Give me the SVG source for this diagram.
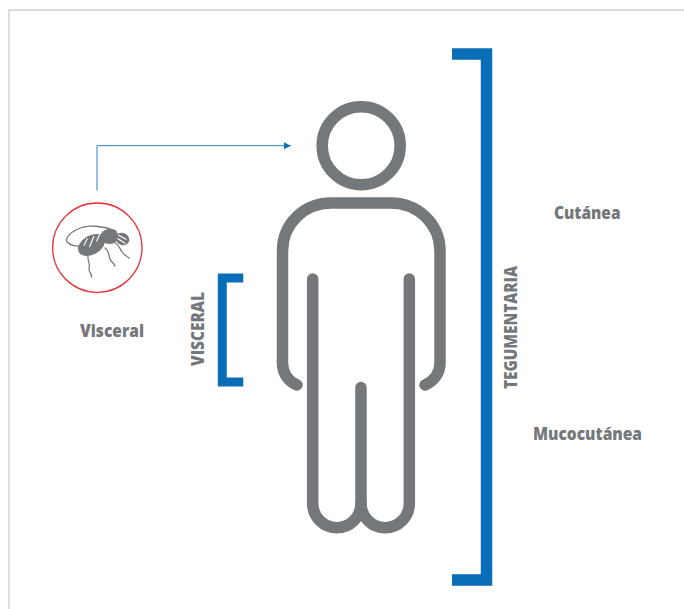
<svg xmlns="http://www.w3.org/2000/svg" width="684" height="609" viewBox="0 0 684 609">
<style>
.body{fill:none;stroke:#75787b;stroke-width:11.5;stroke-linecap:round;stroke-linejoin:round}
.br{fill:none;stroke:#0a6db8;stroke-linejoin:miter}
.t{font-family:"Open Sans","Liberation Sans",sans-serif;font-weight:800;font-size:17px;fill:#75787b}
.fl{fill:none;stroke:#75787b;stroke-width:1.300;stroke-linecap:round}
</style>
<defs>
<marker id="ah" markerUnits="userSpaceOnUse" markerWidth="7" markerHeight="8" refX="7" refY="4" orient="auto"><path d="M0 0.3L7 4L0 7.7Z" fill="#0a6db8"/></marker>
</defs>
<rect width="684" height="609" fill="#fff"/>
<path d="M9 609V10H684" fill="none" stroke="#cfcfcf" stroke-width="1.300"/>
<g id="connectors">
<path d="M97 190.500V145.700H290.700" fill="none" stroke="#2c80c2" stroke-width="1" marker-end="url(#ah)"/>
</g>
<g id="person">
<circle class="body" cx="361.200" cy="145.700" r="39"/>
<path class="body" d="M297 385C288 381 282.500 373 282.500 363V251C282.500 224 304 203 331 203H391C418 203 440 224 440 251V363C440 373 434 381 425 385"/>
<path class="body" d="M312.700 279V503.500A24.150 24.150 0 0 0 361 503.500A24.150 24.150 0 0 0 409.300 503.500V279"/>
<path class="body" d="M361 387.500V503.500"/>
</g>
<g id="fly-icon">
<circle cx="97.300" cy="247.700" r="44.700" fill="#fff" stroke="#e8323a" stroke-width="1.300"/>
<path class="fl" d="M116 231C104 226 88 224 78 229C69 233 65 239 67 242C71 246 80 247 89 246"/>
<g fill="#75787b">
<ellipse cx="91.500" cy="245" rx="14.500" ry="9.500" transform="rotate(-30 91.500 245)"/>
<ellipse cx="109.500" cy="236.500" rx="9" ry="7.500"/>
<ellipse cx="122.500" cy="239" rx="7" ry="6" transform="rotate(25 122.500 239)"/>
</g>
<path d="M87.300 238.300L84 245.500M94 236L89.500 247M99.500 234.500L96.500 241.500M118.300 235L126.500 239.500M117.500 238.500L125.500 243.500" stroke="#fff" stroke-width="1.100" fill="none"/>
<path class="fl" d="M88 256C87 261 91 263 89 268C88 272 92 273 91.500 277"/>
<path class="fl" d="M105 248C109 251 109 256 110 259C111 262 114 263 115 266"/>
<path class="fl" d="M113 242C119 244 120 249 122 252C124 255 127 256 129 258"/>
</g>
<g id="bracket-visceral">
<path class="br" stroke-width="9" d="M243.300 278H222.300V382H243.300"/>
<text class="t" transform="translate(203.500 366) rotate(-90)" textLength="74" lengthAdjust="spacingAndGlyphs">VISCERAL</text>
</g>
<g id="bracket-tegumentaria">
<path class="br" stroke-width="11.500" d="M452 54H486.500V580H452"/>
<text class="t" transform="translate(516.700 389) rotate(-90)" textLength="123" lengthAdjust="spacingAndGlyphs">TEGUMENTARIA</text>
</g>
<g id="label-visceral"><text class="t" x="80" y="336.700" textLength="64" lengthAdjust="spacingAndGlyphs">Visceral</text></g>
<g id="label-cutanea"><text class="t" x="554" y="219" textLength="66.500" lengthAdjust="spacingAndGlyphs">Cutánea</text></g>
<g id="label-mucocutanea"><text class="t" x="533" y="440" textLength="109" lengthAdjust="spacingAndGlyphs">Mucocutánea</text></g>
</svg>
